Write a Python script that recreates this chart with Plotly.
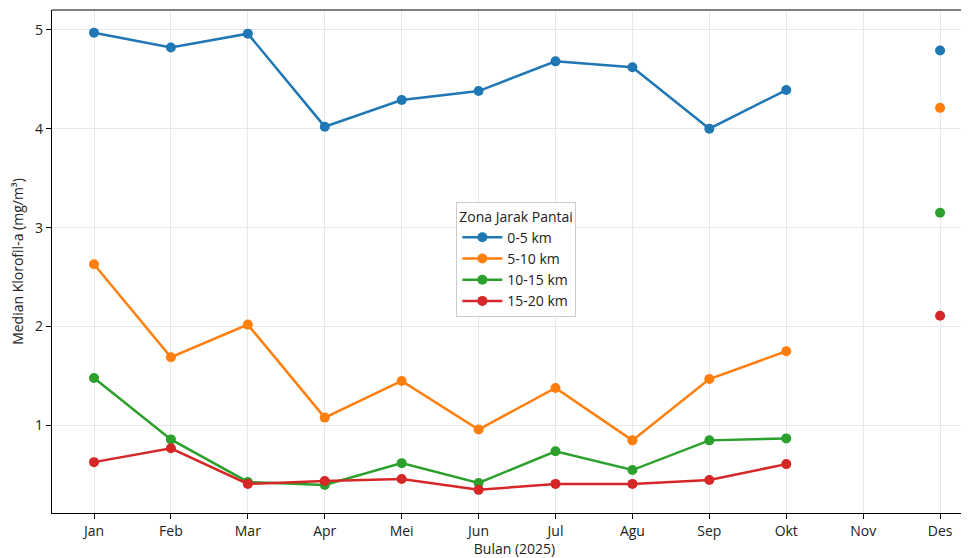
import plotly.graph_objects as go

months = ["Jan", "Feb", "Mar", "Apr", "Mei", "Jun", "Jul", "Agu", "Sep", "Okt", "Nov", "Des"]
zone_names = ["0-5 km", "5-10 km", "10-15 km", "15-20 km"]
zone_0_5 = [4.97, 4.82, 4.96, 4.02, 4.29, 4.38, 4.68, 4.62, 4.00, 4.39, None, 4.79]
zone_5_10 = [2.63, 1.69, 2.02, 1.08, 1.45, 0.96, 1.38, 0.85, 1.47, 1.75, None, 4.21]
zone_10_15 = [1.48, 0.86, 0.43, 0.40, 0.62, 0.42, 0.74, 0.55, 0.85, 0.87, None, 3.15]
zone_15_20 = [0.63, 0.77, 0.41, 0.44, 0.46, 0.35, 0.41, 0.41, 0.45, 0.61, None, 2.11]
colors = ["#1f77b4", "#ff7f0e", "#2ca02c", "#d62728"]

font = "Open Sans"
fig = go.Figure()
for name, vals, c in zip(zone_names, [zone_0_5, zone_5_10, zone_10_15, zone_15_20], colors):
    fig.add_trace(go.Scatter(
        x=list(range(len(months))), y=vals, name=name, mode="lines+markers",
        line=dict(color=c, width=2.5), marker=dict(color=c, size=10),
        connectgaps=False,
    ))

fig.update_layout(
    width=969, height=550,
    margin=dict(l=44, r=0, t=1.5, b=45),
    paper_bgcolor="white", plot_bgcolor="white",
    font=dict(family=font, size=14, color="#222"),
    showlegend=True,
    legend=dict(
        title=dict(text="Zona Jarak Pantai", font=dict(size=14)),
        x=0.502, y=0.503, xanchor="center", yanchor="middle",
        bgcolor="rgba(255,255,255,0.85)", bordercolor="#cccccc", borderwidth=1,
        font=dict(size=14), itemwidth=40, tracegroupgap=0,
    ),
)
fig.update_xaxes(
    range=[-0.546, 11.48], tickmode="array", tickvals=list(range(len(months))), ticktext=months,
    showgrid=True, gridcolor="#e8e8e8", gridwidth=1,
    showline=True, linecolor="black", linewidth=1.2,
    ticks="outside", ticklen=5, tickcolor="black",
    title=dict(text="Bulan (2025)", font=dict(size=14), standoff=2),
    zeroline=False,
)
fig.update_yaxes(
    range=[0.116, 5.199], tickvals=[1, 2, 3, 4, 5],
    showgrid=True, gridcolor="#e8e8e8", gridwidth=1,
    showline=True, linecolor="black", linewidth=1.2,
    ticks="outside", ticklen=5, tickcolor="black",
    title=dict(text="Median Klorofil-a (mg/m³)", font=dict(size=14), standoff=8),
    zeroline=False,
)
fig.add_shape(type="line", xref="paper", yref="paper", x0=0, x1=1, y0=1, y1=1,
              line=dict(color="black", width=1.2))

fig.write_html("out.html")
